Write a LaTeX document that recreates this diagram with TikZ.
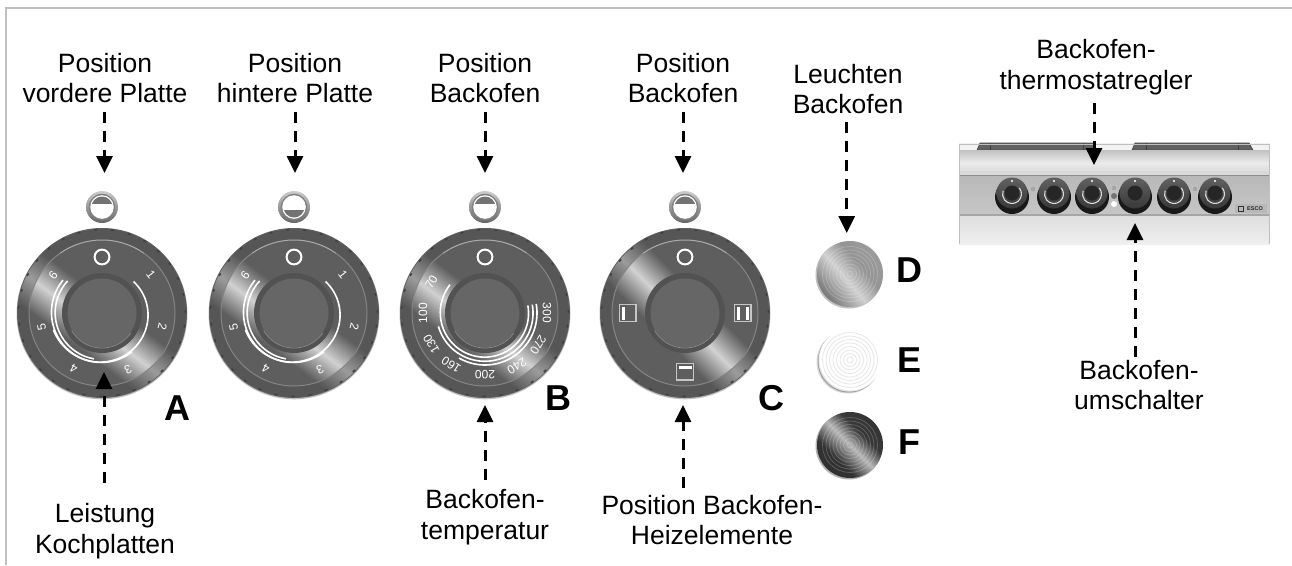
\documentclass[tikz,border=0pt]{standalone}
\usepackage{fontspec}
\setmainfont{Liberation Sans}
\usetikzlibrary{arrows.meta,calc}
\definecolor{fc}{gray}{.37}
\definecolor{hl}{gray}{.82}
\pgfdeclareverticalshading{sheen}{100bp}{color(0bp)=(fc); color(36bp)=(fc); color(50bp)=(hl); color(64bp)=(fc); color(100bp)=(fc)}
\pgfdeclareverticalshading{btnD}{100bp}{rgb(0bp)=(.36,.36,.36); rgb(30bp)=(.48,.48,.48); rgb(46bp)=(.82,.82,.82); rgb(58bp)=(.58,.58,.58); rgb(76bp)=(.62,.62,.62); rgb(100bp)=(.40,.40,.40)}
\pgfdeclareverticalshading{btnF}{100bp}{rgb(0bp)=(.13,.13,.13); rgb(38bp)=(.20,.20,.20); rgb(50bp)=(.72,.72,.72); rgb(60bp)=(.22,.22,.22); rgb(100bp)=(.15,.15,.15)}
\pgfdeclareverticalshading{stoveA}{100bp}{rgb(0bp)=(.80,.80,.80); rgb(45bp)=(.92,.92,.92); rgb(100bp)=(.62,.62,.62)}
\pgfdeclareverticalshading{stoveB}{100bp}{rgb(0bp)=(.80,.80,.80); rgb(100bp)=(.70,.70,.70)}
\pgfdeclareverticalshading{stoveC}{100bp}{rgb(0bp)=(.97,.97,.97); rgb(100bp)=(.84,.84,.84)}
\tikzset{
  x=1pt,y=1pt,
  lab/.style={align=center,font=\fontsize{26.5}{30.5}\selectfont,text=black,inner sep=3pt},
  letter/.style={font=\fontsize{36}{36}\selectfont\bfseries,text=black,inner sep=0pt},
  conn/.style={line width=3pt,draw=black,dash pattern=on 11pt off 8pt,-{Triangle[length=17pt,width=16pt]}},
  whitearc/.style={draw=white,line width=1.6pt},
  num/.style={text=white,font=\fontsize{12}{12}\selectfont,inner sep=0pt},
  symb/.style={draw=gray!45!white,line width=1.3pt,fill=fc},
  frameline/.style={draw=gray!50!white,line width=2pt},
  hob/.style={fill=black!62,draw=black!70,line width=.6pt},
  screw/.style={fill=black!35,draw=black!20,line width=.4pt},
}
\newcommand{\spi}[4]{\draw[whitearc,domain=#1:#2,samples=50,variable=\t]
  plot ({(#3+(#4-#3)*(\t-#1)/(#2-#1))*cos(\t)},{(#3+(#4-#3)*(\t-#1)/(#2-#1))*sin(\t)});}
\newcommand{\knobbody}[5]{%
  \begin{scope}[shift={(#1,#2)}]
    \fill[black!25] (0,-.8) circle (85.5);
    \fill[black!62] (0,0) circle (85);
    \begin{scope}
      \clip (0,0) circle (84);
      \fill[fc] (0,0) circle (84);
      \shade[shading=sheen,shift={(-#1,-#2)},transform canvas={shift={(#1,#2)},rotate=#3}] (-110,#4-48) rectangle (110,#4+48);
    \end{scope}
    \draw[black!70,opacity=.4,line width=11pt] (0,0) circle (78.5);
    \draw[black!75,line width=1.6pt,dash pattern=on 3pt off 14pt] (0,0) circle (83.5);
    \draw[black!48,line width=1pt] (0,0) circle (73);
    \draw[white,opacity=.3,line width=1pt] (55:73) arc (55:125:73);
    \fill[black!68] (0,0) circle (40);
    \draw[black!45,line width=.8pt] (-35:35) arc (-35:-150:35);
    \fill[black!60] (0,0) circle (34.5);
    \draw[white,line width=2pt] (0,56) circle (7.4);
    #5
  \end{scope}}
\newcommand{\indicator}[3]{%
  \begin{scope}[shift={(#1,#2)}]
    \shade[top color=black!20,bottom color=black!60] (0,0) circle (16);
    \fill[black!50] (0,0) circle (13.2);
    \fill[white] (0,0) circle (11.8);
    \begin{scope}
      \clip (0,0) circle (10.5);
      \fill[black!55] (-12,#3*2.8) rectangle (12,#3*12);
    \end{scope}
  \end{scope}}
\newcommand{\rings}[1]{\foreach \r in {3,6.5,...,28}{\draw[#1,line width=.7pt] (0,0) circle (\r);}}
\newcommand{\miniknob}[2]{%
  \begin{scope}[shift={(#1,-194)}]
    \fill[black!90] (0,-3) circle (17);
    \shade[top color=black!62,bottom color=black!78] (0,1) circle (15.5);
    \fill[black!85] (0,1) circle (7.5);
    #2
    \fill[white] (0,13) circle (1.2);
  \end{scope}}
\begin{document}
\begin{tikzpicture}
\useasboundingbox (0,0) rectangle (1292,-565);
\fill[white] (0,0) rectangle (1292,-565);
\coordinate (fa) at (6,-565); \coordinate (fb) at (6,-8); \coordinate (fc1) at (1292,-8);
\draw[frameline] (fa) -- (fb) -- (fc1);

% knobs
\knobbody{102}{-313}{-37}{-15}{%
  \spi{45}{-161}{44.5}{51.5}\spi{-52}{-220}{49}{51}\spi{-100}{-223}{46.5}{47}
  \foreach \a/\t in {38/1,-13/2,-65/3,-117/4,-167/5,142/6}{\node[num,rotate=\a-90] at (\a:62) {\t};}}
\knobbody{294}{-313}{-37}{-15}{%
  \spi{45}{-161}{44.5}{51.5}\spi{-52}{-220}{49}{51}\spi{-100}{-223}{46.5}{47}
  \foreach \a/\t in {38/1,-13/2,-65/3,-117/4,-167/5,142/6}{\node[num,rotate=\a-90] at (\a:62) {\t};}}
\knobbody{485}{-313}{-37}{-15}{%
  \spi{141}{370}{45}{43.5}\spi{196}{370}{48.5}{48}\spi{240}{370}{52}{52}
  \foreach \a/\t in {0/300,-31/270,-59/240,-90/200,-123/160,-150/130,180/100,150/70}{\node[num,rotate=\a-90] at (\a:62) {\t};}}
\knobbody{685}{-313}{-45}{-6}{%
  \draw[symb] (-65.5,-8.2) rectangle (-49,8.2);
  \fill[white] (-63.5,-6.5) rectangle (-60,6.5);
  \draw[symb] (49.5,-8.2) rectangle (66,8.2);
  \fill[white] (51.5,-6.5) rectangle (55,6.5);
  \fill[white] (60.5,-6.5) rectangle (64,6.5);
  \draw[symb] (-8.2,-67) rectangle (8.2,-50.5);
  \fill[white] (-6.5,-53) rectangle (6.5,-56);
}
\indicator{102}{-207}{1}
\indicator{294}{-207}{-1}
\indicator{485}{-207}{1}
\indicator{685}{-207}{1}

% buttons
\begin{scope}[shift={(850,-274)}]
  \fill[black!25] (-1,-1) circle (33.5);
  \begin{scope}
  \clip (0,0) circle (33);
  \shade[shading=btnD,shift={(-850,274)},transform canvas={shift={(850,-274)},rotate=-50}] (-40,-40) rectangle (40,40);
  \rings{white,opacity=.22}
  \end{scope}
\end{scope}
\begin{scope}[shift={(850,-360)}]
  \fill[black!15] (-2,-2) circle (31.5);
  \fill[black!40] (-1.2,-1.5) circle (31);
  \fill[black!10] (-.5,-.6) circle (31);
  \fill[white] (.5,.6) circle (31);
  \rings{black!10}
\end{scope}
\begin{scope}[shift={(850,-445)}]
  \fill[black!30] (-1,-1) circle (33.5);
  \begin{scope}
  \clip (0,0) circle (33);
  \shade[shading=btnF,shift={(-850,445)},transform canvas={shift={(850,-445)},rotate=-45}] (-40,-40) rectangle (40,40);
  \rings{white,opacity=.22}
  \end{scope}
\end{scope}

% stove
\fill[black!5] (959,-143) rectangle (1269.5,-151);
\fill[hob] (980,-143) -- (1093,-143) -- (1097,-150) -- (977,-150) -- cycle;
\draw[black!75] (990,-143) -- (990,-150) (1083,-143) -- (1083,-150);
\fill[hob] (1135,-143) -- (1249,-143) -- (1253,-150) -- (1132,-150) -- cycle;
\draw[black!75] (1146,-143) -- (1146,-150) (1238,-143) -- (1238,-150);
\shade[shading=stoveA] (959,-150) rectangle (1269.5,-171);
\fill[black!15] (959,-171) rectangle (1269.5,-175);
\fill[black!45] (959,-175) rectangle (1269.5,-176.5);
\shade[shading=stoveB] (959,-176.5) rectangle (1269.5,-214);
\fill[black!35] (959,-214) rectangle (1269.5,-216);
\shade[shading=stoveC] (959,-216) rectangle (1269.5,-244);
\draw[black!25,line width=.8pt] (959,-244) -- (959,-144) -- (1269.5,-144) -- (1269.5,-244);
\newcommand{\miniarc}{\draw[black!15,line width=1.1pt] (40:9.5) arc (40:-200:9.5);}
\miniknob{1012}{\miniarc}
\miniknob{1054}{\miniarc}
\miniknob{1092}{\miniarc}
\miniknob{1135}{}
\miniknob{1174}{\miniarc}
\miniknob{1215}{\miniarc}
\fill[screw] (1033,-189) circle (3);
\fill[screw] (1114,-188) circle (3);
\fill[black!55] (1114,-196) circle (3);
\fill[white] (1114,-204) circle (3);
\fill[screw] (1195,-189) circle (3);
\fill[black!28] (1235,-204) rectangle (1267,-213);
\draw[black!80,line width=.6pt] (1238,-206) rectangle (1243,-211);
\node[inner sep=0pt,font=\fontsize{5.5}{5.5}\selectfont\bfseries,text=black!85] (logo) at (1255,-208.5) {ESCO};

% labels
\node[lab] (l1) at (105,-78) {Position\\vordere Platte};
\node[lab] (l2) at (295,-78) {Position\\hintere Platte};
\node[lab] (l3) at (485,-78) {Position\\Backofen};
\node[lab] (l4) at (683,-78) {Position\\Backofen};
\node[lab] (l5) at (848,-89) {Leuchten\\Backofen};
\node[lab] (l6) at (1096,-67) {Backofen-\\thermostatregler};
\node[lab] (l7) at (1139,-385) {Backofen-\\umschalter};
\node[lab] (l8) at (105,-531) {Leistung\\Kochplatten};
\node[lab] (l9) at (485,-517) {Backofen-\\temperatur};
\node[lab] (l10) at (712,-520) {Position Backofen-\\Heizelemente};

\coordinate (t1) at (104.5,-173);
\coordinate (t2) at (295,-173);
\coordinate (t3) at (485,-173);
\coordinate (t4) at (683,-173);
\coordinate (t5) at (846.7,-233);
\coordinate (t6) at (1094,-165);
\coordinate (t7) at (1135,-223);
\coordinate (t8) at (104,-372);
\coordinate (t9) at (485,-405);
\coordinate (t10) at (683,-405);
\draw[conn,shorten <=6pt] (l1.south -| t1) -- (t1);
\draw[conn,shorten <=6pt] (l2.south -| t2) -- (t2);
\draw[conn,shorten <=6pt] (l3.south -| t3) -- (t3);
\draw[conn,shorten <=6pt] (l4.south -| t4) -- (t4);
\draw[conn,shorten <=5pt] (l5.south -| t5) -- (t5);
\draw[conn,shorten <=5pt] (l6.south -| t6) -- (t6);
\draw[conn] (l7.north -| t7) -- (t7);
\draw[conn,shorten <=17pt] (l8.north -| t8) -- (t8);
\draw[conn,shorten <=6pt] (l9.north -| t9) -- (t9);
\draw[conn,shorten <=4pt] (l10.north -| t10) -- (t10);

\node[letter] (la) at (177,-408) {A};
\node[letter] (lb) at (558,-398) {B};
\node[letter] (lc) at (771,-398) {C};
\node[letter] (ld) at (909,-270) {D};
\node[letter] (le) at (909,-360) {E};
\node[letter] (lf) at (909,-442) {F};
\end{tikzpicture}
\end{document}
